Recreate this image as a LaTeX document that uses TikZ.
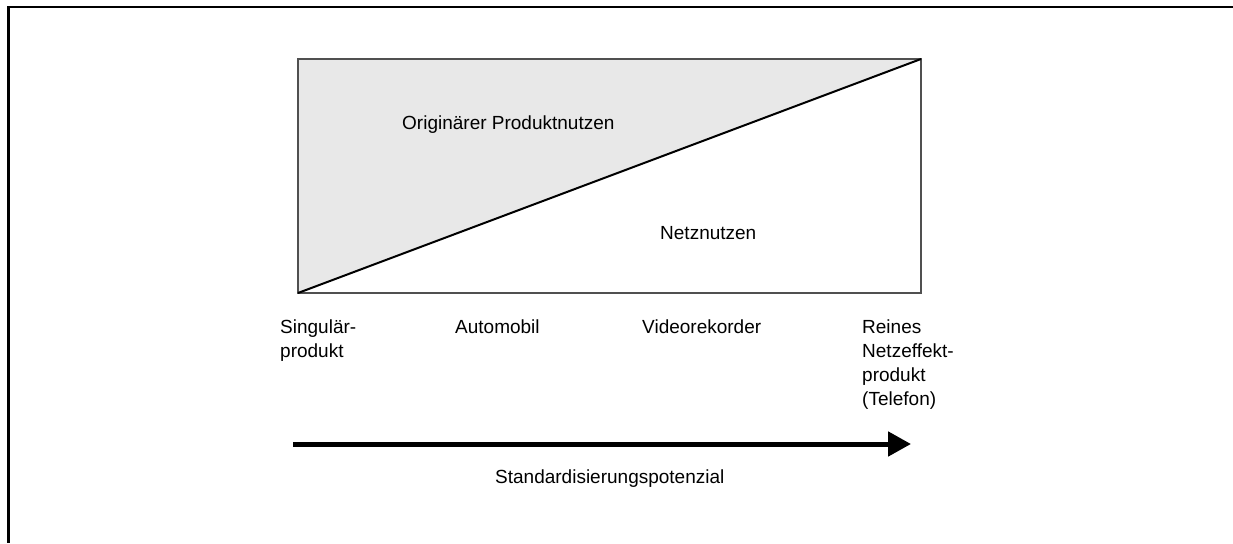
\documentclass[tikz,border=0pt]{standalone}
\usepackage{fontspec}
\setmainfont{Liberation Sans}
\usetikzlibrary{arrows.meta}
\definecolor{areagray}{RGB}{232,232,232}
\definecolor{boxline}{RGB}{80,80,80}
\begin{document}
\begin{tikzpicture}[x=1pt,y=-1pt,
  lbl/.style={inner sep=0pt,anchor=base west,font=\fontsize{19}{24}\selectfont,align=left},
  frameline/.style={line width=2.5pt,black},
  bigarrow/.style={line width=5pt,-{Triangle[length=23pt,width=24pt]}}]
\useasboundingbox (0,0) rectangle (1233,543);
% outer frame (top and left only)
\coordinate (fTL) at (8.5,7);
\coordinate (fTR) at (1233,7);
\coordinate (fBL) at (8.5,543);
\draw[frameline] (fTR) -- (fTL) -- (fBL);
% box corners
\coordinate (bTL) at (298,59);
\coordinate (bTR) at (921,59);
\coordinate (bBR) at (921,293);
\coordinate (bBL) at (298,293);
\fill[areagray] (bBL) -- (bTL) -- (bTR) -- cycle;
\draw[boxline,line width=1.3pt] (bTL) rectangle (bBR);
\draw[black,line width=2pt] (bBL) -- (bTR);
% region labels
\node[lbl] (orig) at (402,129) {Originärer Produktnutzen};
\node[lbl] (netz) at (660,239) {Netznutzen};
% axis labels (base anchor = last line's baseline)
\node[lbl] (sing) at (280,357) {Singulär-\\produkt};
\node[lbl] (auto) at (455,333) {Automobil};
\node[lbl] (video) at (642,333) {Videorekorder};
\node[lbl] (rein) at (862,405) {Reines\\Netzeffekt-\\produkt\\(Telefon)};
% arrow
\coordinate (aS) at (293,444);
\coordinate (aE) at (911,444);
\draw[bigarrow] (aS) -- (aE);
\node[lbl] (std) at (495,483) {Standardisierungspotenzial};
\end{tikzpicture}
\end{document}
